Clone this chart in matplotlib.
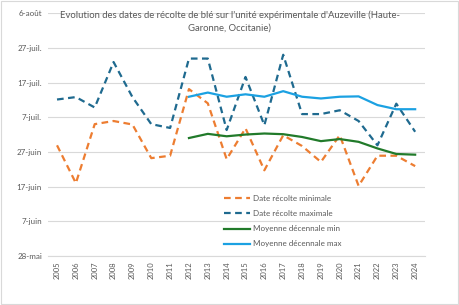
import matplotlib
matplotlib.use("Agg")
import matplotlib.pyplot as plt
from matplotlib.patches import Rectangle

# days after 28 May
years = list(range(2005, 2025))
date_min = [31.9, 21.0, 38.0, 38.9, 37.9, 28.2, 28.9, 48.1, 44.0, 27.9,
            36.8, 24.7, 34.8, 31.7, 27.1, 34.8, 20.2, 28.9, 28.9, 25.9]
date_max = [45.1, 45.8, 42.8, 55.9, 45.8, 38.0, 36.9, 56.9, 56.9, 36.3,
            51.6, 37.7, 58.0, 40.9, 40.9, 42.0, 38.9, 31.9, 43.9, 35.8]
avg_years = list(range(2012, 2025))
avg_min = [34.0, 35.2, 34.5, 35.0, 35.3, 35.1, 34.3, 33.1, 33.7, 32.9, 31.0, 29.4, 29.2]
avg_max = [45.9, 47.1, 45.9, 46.6, 45.9, 47.5, 45.9, 45.4, 45.9, 46.0, 43.5, 42.3, 42.3]

ytick_vals = [0, 10, 20, 30, 40, 50, 60, 70]
ytick_labels = ["28-mai", "7-juin", "17-juin", "27-juin", "7-juil.", "17-juil.", "27-juil.", "6-août"]

title = "Evolution des dates de récolte de blé sur l'unité expérimentale d'Auzeville (Haute-\nGaronne, Occitanie)"

plt.rcParams['font.family'] = ['Lato', 'DejaVu Sans']
grey = "#595959"

fig = plt.figure(figsize=(4.59, 3.05), dpi=100)
ax = fig.add_axes([0.1037, 0.1607, 0.8213, 0.7963])

ax.plot(years, date_min, color="#ED7D31", lw=1.6, ls=(0, (3, 2)), label="Date récolte minimale")
ax.plot(years, date_max, color="#1F6A8F", lw=1.6, ls=(0, (3, 2)), label="Date récolte maximale")
ax.plot(avg_years, avg_min, color="#217A2A", lw=1.6, label="Moyenne décennale min")
ax.plot(avg_years, avg_max, color="#1BA1E2", lw=1.6, label="Moyenne décennale max")

ax.set_xlim(2004.5, 2024.5)
ax.set_ylim(0, 70)
ax.set_xticks(years)
ax.set_xticklabels([str(y) for y in years], rotation=90, fontsize=5.5, color=grey)
ax.set_yticks(ytick_vals)
ax.set_yticklabels(ytick_labels, fontsize=5.8, color=grey)
ax.tick_params(length=0, pad=4)
ax.grid(axis="y", color="#D9D9D9", lw=0.8)
ax.set_axisbelow(True)
for s in ax.spines.values():
    s.set_visible(False)
ax.spines["bottom"].set_visible(True)
ax.spines["bottom"].set_color("#D9D9D9")

fig.text(0.5, 0.965, title, ha="center", va="top", fontsize=6.8, color=grey, linespacing=1.5)

ax.legend(loc="upper left", bbox_to_anchor=(0.45, 0.28), frameon=False, fontsize=5.8,
          labelcolor=grey, handlelength=3.2, handletextpad=0.3, labelspacing=1.0)

fig.patches.append(Rectangle((0.002, 0.003), 0.995, 0.994, transform=fig.transFigure,
                             fill=False, edgecolor="#D9D9D9", lw=0.8))

fig.savefig("out.png", dpi=100)
